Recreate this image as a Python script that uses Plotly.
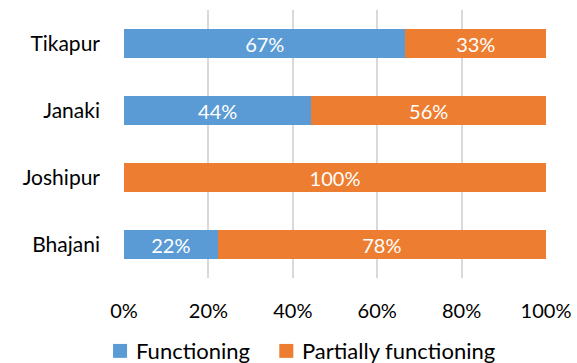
import plotly.graph_objects as go

categories = ["Bhajani", "Joshipur", "Janaki", "Tikapur"]
functioning = [22.2, 0, 44.4, 66.7]
partial = [77.8, 100, 55.6, 33.3]
func_labels = ["22%", "", "44%", "67%"]
part_labels = ["78%", "100%", "56%", "33%"]
tick_vals = [0, 20, 40, 60, 80, 100]
tick_text = ["0%", "20%", "40%", "60%", "80%", "100%"]
series_names = ["Functioning", "Partially functioning"]
colors = ["#5B9BD5", "#ED7D31"]

font_family = "Lato, Open Sans, sans-serif"

fig = go.Figure()
for vals, labels, name, col in [(functioning, func_labels, series_names[0], colors[0]),
                                (partial, part_labels, series_names[1], colors[1])]:
    fig.add_trace(go.Bar(
        y=categories, x=vals, name=name, orientation="h",
        marker=dict(color=col, line=dict(width=0)),
        text=labels, textposition="inside", insidetextanchor="middle",
        constraintext="none",
        textfont=dict(color="white", size=20, family=font_family),
        showlegend=False,
    ))

# legend drawn as shapes + annotations
legend_items = [(-0.026, 0.024, series_names[0], colors[0]),
                (0.368, 0.418, series_names[1], colors[1])]
for sx, tx, name, col in legend_items:
    fig.add_shape(type="rect", xref="paper", yref="paper",
                  x0=sx, x1=sx + 14 / 421, y0=-0.246, y1=-0.298,
                  fillcolor=col, line=dict(width=0))
    fig.add_annotation(xref="paper", yref="paper", x=tx, y=-0.272,
                       xanchor="left", yanchor="middle", showarrow=False,
                       text=name, font=dict(size=22, family=font_family, color="#000"))

fig.update_layout(
    barmode="stack",
    bargap=0.58,
    width=577, height=363,
    margin=dict(l=124, r=31, t=10, b=85, autoexpand=False),
    paper_bgcolor="white", plot_bgcolor="white",
    font=dict(family=font_family, size=20, color="#000000"),
    xaxis=dict(range=[0, 100], tickvals=tick_vals, ticktext=tick_text,
               showgrid=True, gridcolor="#D9D9D9", gridwidth=2,
               zeroline=False, showline=False, ticks="", ticklabelstandoff=19,
               tickfont=dict(size=20)),
    yaxis=dict(showgrid=False, zeroline=False, showline=False, ticks="",
               ticklabelstandoff=23, tickfont=dict(size=21)),
)

fig.write_html("out.html")
